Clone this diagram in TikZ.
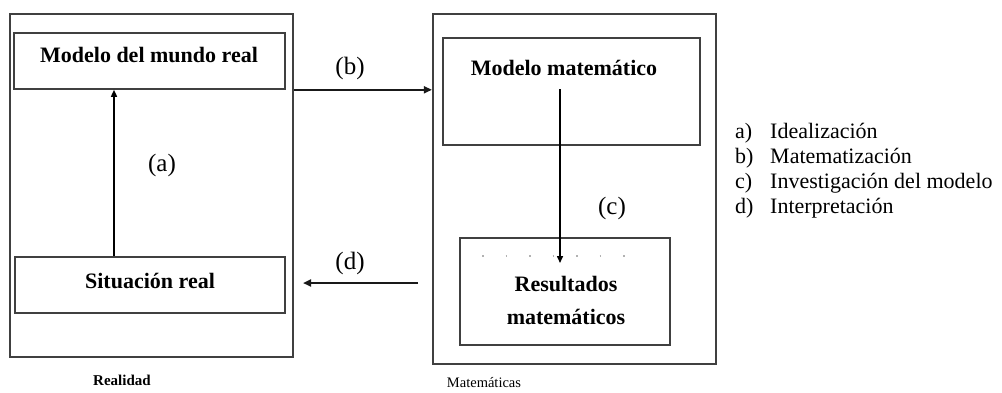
\documentclass[tikz,border=0pt]{standalone}
\usepackage{fontspec}
\setmainfont{Liberation Serif}
\usetikzlibrary{arrows.meta}
\tikzset{
  outerbox/.style={draw=black!75, line width=2.2pt, minimum width=#1},
  innerbox/.style={draw=black!75, line width=1.6pt},
  boxtext/.style={font=\fontsize{22}{33}\selectfont\bfseries, align=center, inner sep=0pt},
  steplabel/.style={font=\fontsize{25}{28}\selectfont, inner sep=0pt},
  legendtext/.style={font=\fontsize{22}{24}\selectfont, anchor=base west, inner sep=0pt},
  flow/.style={-{Triangle[length=7pt,width=6pt]}, line width=1.5pt, black},
  flowthick/.style={-{Triangle[length=8pt,width=7pt]}, line width=2.2pt, black!90},
  caption/.style={inner sep=0pt}
}
\begin{document}
\begin{tikzpicture}[x=1pt,y=-1pt]
\useasboundingbox (0,0) rectangle (1002,392);
% outer boxes
\node[outerbox=283pt, minimum height=343pt] (real) at (151.5,185.5) {};
\node[outerbox=283pt, minimum height=350pt] (mat) at (574.5,189) {};
% inner boxes left
\node[innerbox, minimum width=271pt, minimum height=56pt] (mwr) at (149.5,61) {};
\node[boxtext] (mwrt) at (149,55) {Modelo del mundo real};
\node[innerbox, minimum width=270pt, minimum height=56pt] (sit) at (150,285) {};
\node[boxtext] (sitt) at (150,281) {Situación real};
% inner boxes right
\node[innerbox, minimum width=257pt, minimum height=107pt] (mm) at (571.5,91.5) {};
\node[boxtext] (mmt) at (564,68) {Modelo matemático};
\node[innerbox, minimum width=210pt, minimum height=107pt] (res) at (565,291.5) {};
\node[boxtext] (rest) at (566,300) {Resultados\\matemáticos};
% faint dots inside result box
\draw[black!30, line width=1.2pt, dash pattern=on 1.5pt off 22pt] (482,256) -- (628,256);
% helper coordinates
\coordinate (ax) at (114,0);
\coordinate (c1) at (560,89);
\coordinate (c2) at (560,263);
\coordinate (d1) at (418,283);
\coordinate (d2) at (303,283);
% arrows
\draw[flow] (sit.north -| ax) -- (mwr.south -| ax);
\draw[flowthick] (real.east |- mwr.south) -- (mat.west |- mwr.south);
\draw[flow] (c1) -- (c2);
\draw[flowthick] (d1) -- (d2);
% step labels
\node[steplabel] (la) at (162,165) {(a)};
\node[steplabel] (lb) at (350,68) {(b)};
\node[steplabel] (lc) at (612,208) {(c)};
\node[steplabel] (ld) at (350,263) {(d)};
% captions
\node[caption, font=\fontsize{15}{17}\selectfont\bfseries] (cap1) at (122,380) {Realidad};
\node[caption, font=\fontsize{14.5}{16}\selectfont] (cap2) at (484,383) {Matemáticas};
% legend
\node[legendtext] (l1a) at (735,138) {a)};
\node[legendtext] (l1) at (770,138) {Idealización};
\node[legendtext] (l2a) at (735,163) {b)};
\node[legendtext] (l2) at (770,163) {Matematización};
\node[legendtext] (l3a) at (735,188) {c)};
\node[legendtext] (l3) at (770,188) {Investigación del modelo};
\node[legendtext] (l4a) at (735,213) {d)};
\node[legendtext] (l4) at (770,213) {Interpretación};
\end{tikzpicture}
\end{document}
